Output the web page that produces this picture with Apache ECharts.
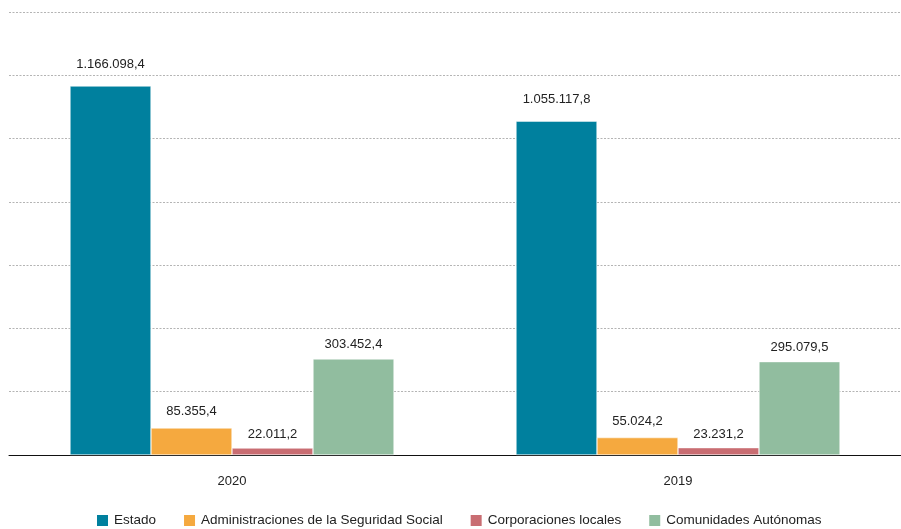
<!DOCTYPE html>
<html>
<head>
<meta charset="utf-8">
<script src="https://cdn.jsdelivr.net/npm/echarts@6/dist/echarts.min.js"></script>
<style>
  html, body { margin: 0; padding: 0; background: #fff; }
  #chart { width: 901px; height: 529px; }
</style>
</head>
<body>
<div id="chart"></div>
<script>
// Years shown on the category axis
const years = ['2020', '2019'];

// Series names and values per year
const seriesNames = [
  'Estado',
  'Administraciones de la Seguridad Social',
  'Corporaciones locales',
  'Comunidades Autónomas'
];
const estado = [1166098.4, 1055117.8];
const seguridadSocial = [85355.4, 55024.2];
const corporaciones = [22011.2, 23231.2];
const comunidades = [303452.4, 295079.5];

const seriesColors = ['#00809e', '#f5a93f', '#c96d72', '#91bd9f'];
const labelDistances = [15, 10, 7, 8];

// Spanish number format: dot thousands separator, comma decimal
function fmt(v) {
  const parts = v.toFixed(1).split('.');
  const intPart = parts[0].replace(/\B(?=(\d{3})+(?!\d))/g, '.');
  return intPart + ',' + parts[1];
}

const font = '"Liberation Sans", Arial, Helvetica, sans-serif';
const values = [estado, seguridadSocial, corporaciones, comunidades];

const chart = echarts.init(document.getElementById('chart'));
chart.setOption({
  animation: false,
  textStyle: { fontFamily: font },
  grid: { left: 9, right: 0, top: 12, bottom: 74 },
  legend: {
    bottom: 1,
    left: 95,
    padding: 0,
    itemWidth: 13,
    itemHeight: 13,
    itemGap: 26,
    icon: 'rect',
    textStyle: { fontSize: 13.5, color: '#222', fontFamily: font },
    data: seriesNames
  },
  xAxis: {
    type: 'category',
    data: years,
    axisLine: { lineStyle: { color: '#111', width: 1 } },
    axisTick: { show: false },
    axisLabel: { fontSize: 13, color: '#222', margin: 20, fontFamily: font }
  },
  yAxis: {
    type: 'value',
    min: 0,
    max: 1400000,
    interval: 200000,
    axisLabel: { show: false },
    axisLine: { show: false },
    axisTick: { show: false },
    splitLine: { lineStyle: { color: '#b4b4b4', type: [2, 1.5], width: 1 } }
  },
  series: seriesNames.map((name, i) => ({
    name: name,
    type: 'bar',
    data: values[i],
    barWidth: 81,
    barGap: '0%',
    itemStyle: { color: seriesColors[i], borderColor: '#fff', borderWidth: 0.5 },
    label: {
      show: true,
      position: 'top',
      distance: labelDistances[i],
      fontSize: 13,
      color: '#222',
      fontFamily: font,
      formatter: p => fmt(p.value)
    }
  }))
});
</script>
</body>
</html>
